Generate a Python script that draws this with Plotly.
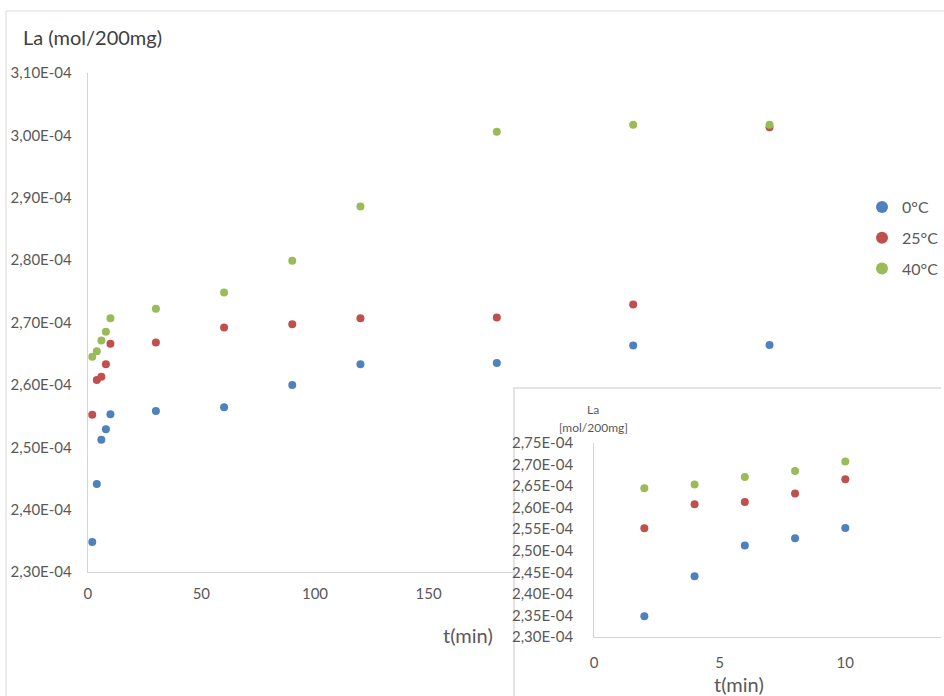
import numpy as np
import plotly.graph_objects as go

# Sampling times (min) and La uptake (mol / 200 mg) at three temperatures
t_min = [2, 4, 6, 8, 10, 30, 60, 90, 120, 180, 240, 300]
la_0c = [2.348e-4, 2.441e-4, 2.512e-4, 2.529e-4, 2.553e-4, 2.558e-4,
         2.564e-4, 2.600e-4, 2.633e-4, 2.635e-4, 2.663e-4, 2.664e-4]
la_25c = [2.552e-4, 2.608e-4, 2.613e-4, 2.633e-4, 2.666e-4, 2.668e-4,
          2.692e-4, 2.697e-4, 2.707e-4, 2.708e-4, 2.729e-4, 3.013e-4]
la_40c = [2.645e-4, 2.654e-4, 2.671e-4, 2.685e-4, 2.707e-4, 2.722e-4,
          2.748e-4, 2.799e-4, 2.886e-4, 3.006e-4, 3.017e-4, 3.017e-4]
series_names = ["0°C", "25°C", "40°C"]
series_colors = ["#4F81BD", "#C0504D", "#9BBB59"]

# Zoomed view: first 10 minutes
n_early = 5

main_yticks = np.round(np.arange(2.30e-4, 3.1001e-4, 0.10e-4), 7)
inset_yticks = np.round(np.arange(2.30e-4, 2.7501e-4, 0.05e-4), 7)
main_xticks = [0, 50, 100, 150]
inset_xticks = [0, 5, 10]


def sci_comma(v):
    return f"{v:.2E}".replace(".", ",")


W, H = 944, 696
FONT = "Lato"
TXT = "#595959"
AXLINE = "#D4D4D4"


def px_x(p):
    return p / W


def px_y(p):
    return 1 - p / H


fig = go.Figure()

for name, color, vals in zip(series_names, series_colors, [la_0c, la_25c, la_40c]):
    fig.add_trace(go.Scatter(
        x=t_min, y=vals, mode="markers", name=name, legendgroup=name,
        marker=dict(color=color, size=8),
        xaxis="x", yaxis="y",
    ))

# blank panel that hides the main axis behind the zoomed view
fig.add_trace(go.Scatter(x=[], y=[], xaxis="x2", yaxis="y2", showlegend=False,
                         hoverinfo="skip"))

for name, color, vals in zip(series_names, series_colors, [la_0c, la_25c, la_40c]):
    fig.add_trace(go.Scatter(
        x=t_min[:n_early], y=vals[:n_early], mode="markers", name=name,
        showlegend=False, marker=dict(color=color, size=8),
        xaxis="x3", yaxis="y3",
    ))

tickfont = dict(family=FONT, size=15, color=TXT)

fig.update_layout(
    width=W, height=H, autosize=False,
    margin=dict(l=0, r=0, t=0, b=0),
    paper_bgcolor="white", plot_bgcolor="white",
    font=dict(family=FONT, color=TXT),
    showlegend=True,
    legend=dict(x=px_x(865), y=px_y(190), xanchor="left", yanchor="top",
                font=dict(family=FONT, size=16, color=TXT),
                tracegroupgap=7, itemsizing="constant",
                bgcolor="rgba(0,0,0,0)"),
    xaxis=dict(domain=[px_x(88), px_x(88 + 350 * 2.28)], range=[0, 350],
               anchor="y", showline=True, linecolor=AXLINE, linewidth=1,
               showgrid=False, zeroline=False, ticks="", automargin=False,
               tickvals=main_xticks, ticktext=[str(v) for v in main_xticks],
               tickfont=tickfont, ticklabelstandoff=8),
    yaxis=dict(domain=[px_y(572), px_y(73)], range=[2.30e-4, 3.10e-4],
               anchor="x", showline=True, linecolor=AXLINE, linewidth=1,
               showgrid=False, zeroline=False, ticks="", automargin=False,
               tickvals=list(main_yticks),
               ticktext=[sci_comma(v) for v in main_yticks],
               tickfont=tickfont, ticklabelstandoff=12),
    xaxis2=dict(domain=[px_x(517), 1.0], range=[0, 1], anchor="y2", side="top",
                showline=True, linecolor="#E3E3E3", linewidth=2, automargin=False,
                showgrid=False, zeroline=False, showticklabels=False, ticks=""),
    yaxis2=dict(domain=[0.0, px_y(389)], range=[0, 1], anchor="x2", side="left",
                showline=True, linecolor="#E3E3E3", linewidth=2, automargin=False,
                showgrid=False, zeroline=False, showticklabels=False, ticks=""),
    xaxis3=dict(domain=[px_x(596), 1.0], range=[0, (W - 596) / 25.2],
                anchor="y3", showline=True, linecolor=AXLINE, linewidth=1,
                showgrid=False, zeroline=False, ticks="", automargin=False,
                tickvals=inset_xticks, ticktext=[str(v) for v in inset_xticks],
                tickfont=tickfont, ticklabelstandoff=12),
    yaxis3=dict(domain=[px_y(637), px_y(443)], range=[2.30e-4, 2.75e-4],
                anchor="x3", showline=True, linecolor=AXLINE, linewidth=1,
                showgrid=False, zeroline=False, ticks="", automargin=False,
                tickvals=list(inset_yticks),
                ticktext=[sci_comma(v) for v in inset_yticks],
                tickfont=tickfont, ticklabelstandoff=17),
)

# outer chart frame
fig.add_shape(type="rect", xref="paper", yref="paper",
              x0=px_x(6), x1=1.2, y0=-0.2, y1=px_y(11),
              line=dict(color="#D9D9D9", width=1), fillcolor="rgba(0,0,0,0)",
              layer="below")

annotations = [
    dict(text="La (mol/200mg)", x=px_x(21), y=px_y(37), xanchor="left",
         yanchor="middle", font=dict(family=FONT, size=20, color="#404040")),
    dict(text="t(min)", x=px_x(469), y=px_y(635), xanchor="center",
         yanchor="middle", font=dict(family=FONT, size=20, color=TXT)),
    dict(text="La", x=px_x(595), y=px_y(409), xanchor="center",
         yanchor="middle", font=dict(family=FONT, size=12, color=TXT)),
    dict(text="[mol/200mg]", x=px_x(595), y=px_y(427), xanchor="center",
         yanchor="middle", font=dict(family=FONT, size=12, color=TXT)),
    dict(text="t(min)", x=px_x(741), y=px_y(684), xanchor="center",
         yanchor="middle", font=dict(family=FONT, size=20, color=TXT)),
]
for a in annotations:
    fig.add_annotation(xref="paper", yref="paper", showarrow=False, **a)

fig.write_html("out.html")
